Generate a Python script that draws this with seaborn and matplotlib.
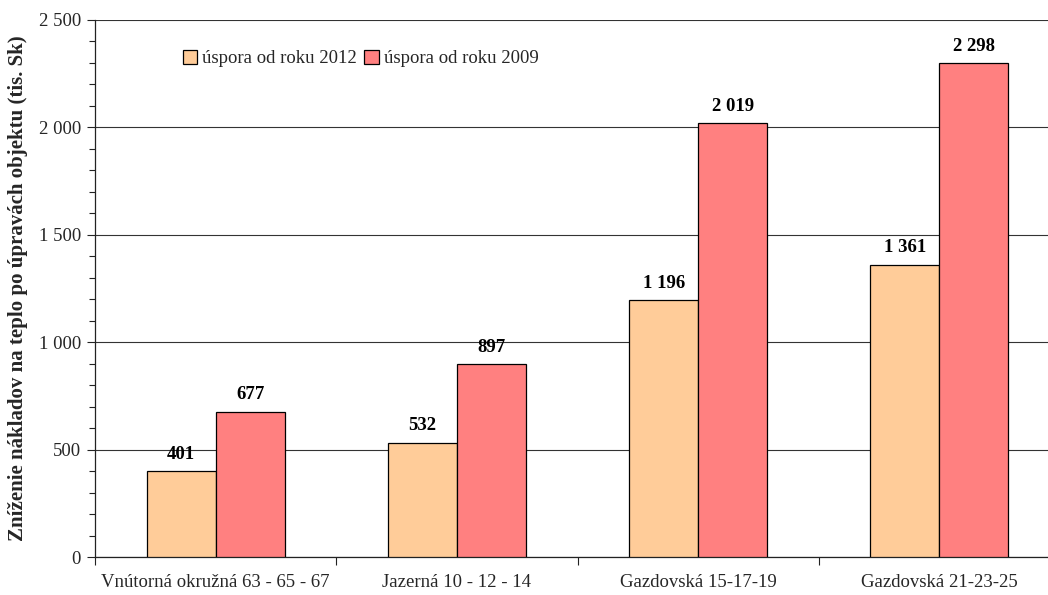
import matplotlib
matplotlib.use("Agg")
import matplotlib.pyplot as plt
import matplotlib.ticker as mticker
import seaborn as sns
import pandas as pd

buildings = ["Vnútorná okružná 63 - 65 - 67", "Jazerná 10 - 12 - 14",
             "Gazdovská 15-17-19", "Gazdovská 21-23-25"]
savings_2012 = [401, 532, 1196, 1361]
savings_2009 = [677, 897, 2019, 2298]
series_names = ["úspora od roku 2012", "úspora od roku 2009"]
colors = ["#FFCC99", "#FF8080"]

df = pd.DataFrame({
    "budova": buildings * 2,
    "hodnota": savings_2012 + savings_2009,
    "séria": [series_names[0]] * 4 + [series_names[1]] * 4,
})

sns.set_theme(style="white")
plt.rcParams["font.family"] = ["Liberation Serif", "DejaVu Serif"]

FS = 13.5

W, H = 1048, 595
fig = plt.figure(figsize=(W / 100, H / 100), dpi=100)
left, right, top, bottom = 95, 1048, 20, 557
ax = fig.add_axes([left / W, 1 - bottom / H, (right - left) / W, (bottom - top) / H])

sns.barplot(data=df, x="budova", y="hodnota", hue="séria", palette=colors,
            width=0.572, edgecolor="black", linewidth=0.9, ax=ax, zorder=3,
            saturation=1)

cat_w = 241.25
ax.set_xlim(-0.5, -0.5 + (right - left) / cat_w)
ax.set_ylim(0, 2500)

# value labels
fmt = lambda v: f"{v:,.0f}".replace(",", " ")
for cont in ax.containers:
    ax.bar_label(cont, labels=[fmt(b.get_height()) for b in cont],
                 padding=6, fontsize=FS, fontweight="bold", color="black")

# axes styling
for s in ["top", "right"]:
    ax.spines[s].set_visible(False)
for s in ["left", "bottom"]:
    ax.spines[s].set_color("#222222")
    ax.spines[s].set_linewidth(0.9)

ax.yaxis.set_major_locator(mticker.MultipleLocator(500))
ax.yaxis.set_minor_locator(mticker.MultipleLocator(100))
ax.yaxis.set_major_formatter(mticker.FuncFormatter(lambda v, p: fmt(v)))
ax.grid(axis="y", which="major", color="#333333", linewidth=0.8, zorder=0)
ax.set_axisbelow(True)
ax.tick_params(axis="y", which="major", left=True, length=6, width=0.8,
               labelsize=FS, color="#222222", pad=4)
ax.tick_params(axis="y", which="minor", left=True, length=4, width=0.8,
               color="#222222")

ax.set_xticks(range(len(buildings)))
ax.set_xticklabels(buildings)
ax.set_xticks([i - 0.5 for i in range(len(buildings))], minor=True)
ax.tick_params(axis="x", which="major", length=0, labelsize=FS, pad=12)
ax.tick_params(axis="x", which="minor", bottom=True, length=6, width=0.8,
               color="#222222")

ax.set_xlabel("")
ax.set_ylabel("Zníženie nákladov na teplo po úpravách objektu (tis. Sk)",
              fontsize=15, fontweight="bold", labelpad=8)

leg = ax.legend(loc="upper left", bbox_to_anchor=(0.084, 0.958), ncol=2,
                frameon=False, fontsize=FS, handlelength=0.75, handleheight=0.75,
                handletextpad=0.3, columnspacing=0.4, borderaxespad=0)
for h in leg.legend_handles:
    h.set_edgecolor("black")
    h.set_linewidth(0.9)

fig.savefig("out.png", dpi=100)
